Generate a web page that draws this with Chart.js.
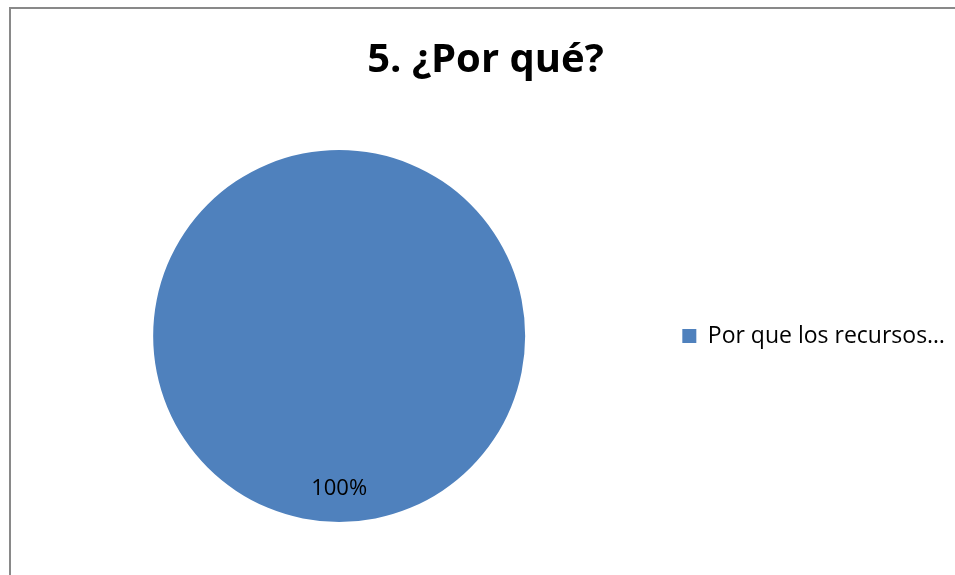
<!DOCTYPE html>
<html lang="es">

<head>
    <meta charset="UTF-8">
    <script src="https://cdn.jsdelivr.net/npm/chart.js"></script>
    <title>5. ¿Por qué?</title>
    <style>
        html, body { margin: 0; padding: 0; background: #fff; overflow: hidden; }
        #marco {
            position: absolute; left: 9px; top: 7px; width: 960px; height: 580px;
            border-left: 2px solid #898989; border-top: 2px solid #898989;
            pointer-events: none;
        }
        #grafico { position: absolute; left: 0; top: 0; }
    </style>
</head>

<body>
    <canvas id="grafico" width="955" height="575"></canvas>
    <div id="marco"></div>
</body>

</html>

<script>
    var titulo = '5. ¿Por qué?'
    var categorias = ['Por que los recursos…']
    var valores = [100]
    var colores = ['#4F81BD']

    // etiqueta de porcentaje dentro del sector
    var etiquetas = {
        id: 'etiquetas',
        afterDatasetsDraw: function (chart) {
            var ctx = chart.ctx
            var meta = chart.getDatasetMeta(0)
            var total = valores.reduce(function (a, b) { return a + b }, 0)
            meta.data.forEach(function (arc, i) {
                var p = arc.getProps(['x', 'y', 'startAngle', 'endAngle', 'outerRadius'], true)
                var medio = (p.startAngle + p.endAngle) / 2
                var x = p.x + Math.cos(medio) * p.outerRadius * 0.82
                var y = p.y + Math.sin(medio) * p.outerRadius * 0.82
                ctx.save()
                ctx.fillStyle = '#000'
                ctx.font = '22px "Open Sans"'
                ctx.textAlign = 'center'
                ctx.textBaseline = 'middle'
                ctx.fillText(Math.round(valores[i] / total * 100) + '%', x, y)
                ctx.restore()
            })
        }
    }

    new Chart(document.getElementById('grafico'), {
        type: 'pie',
        data: {
            labels: categorias,
            datasets: [{
                data: valores,
                backgroundColor: colores,
                borderWidth: 0
            }]
        },
        options: {
            responsive: false,
            animation: false,
            layout: { padding: { left: 16, right: 0, top: 0, bottom: 53 } },
            plugins: {
                tooltip: { enabled: false },
                title: {
                    display: true,
                    text: titulo,
                    color: '#000',
                    font: { family: 'Open Sans', size: 40, weight: 'bold' },
                    padding: { top: 37, bottom: 65 }
                },
                legend: {
                    position: 'right',
                    fullSize: false,
                    labels: {
                        color: '#000',
                        font: { family: 'Open Sans', size: 23 },
                        boxWidth: 14,
                        boxHeight: 14,
                        padding: 20
                    }
                }
            }
        },
        plugins: [etiquetas]
    });
</script>
